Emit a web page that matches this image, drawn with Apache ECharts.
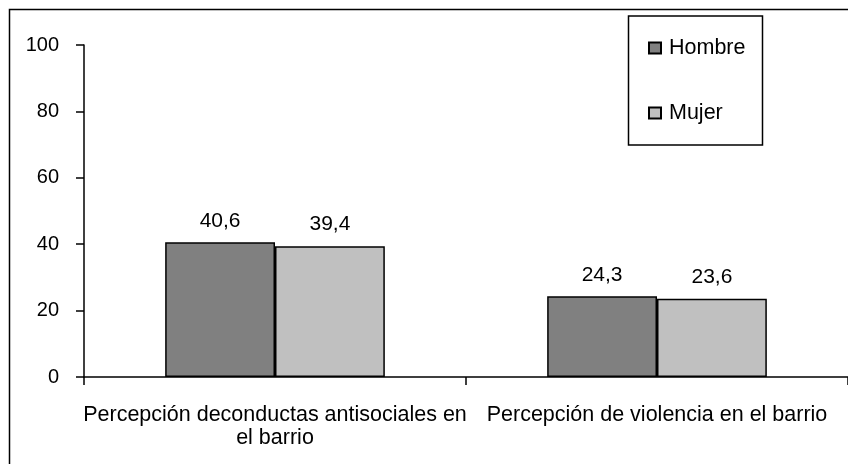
<!DOCTYPE html>
<html>
<head>
<meta charset="utf-8">
<script src="https://cdn.jsdelivr.net/npm/echarts@6/dist/echarts.min.js"></script>
<style>
  html, body { margin: 0; padding: 0; background: #fff; }
  #chart { width: 848px; height: 464px; }
</style>
</head>
<body>
<div id="chart"></div>
<script>
const categories = [
  "Percepción deconductas antisociales en\nel barrio",
  "Percepción de violencia en el barrio"
];
const hombre = [40.6, 24.3];
const mujer = [39.4, 23.6];
const yTicks = [0, 20, 40, 60, 80, 100];

const font = "Liberation Sans, Arial, sans-serif";
const comma = v => String(v).replace(".", ",");

const chart = echarts.init(document.getElementById("chart"));
chart.setOption({
  animation: false,
  textStyle: { fontFamily: font, color: "#000" },
  graphic: [
    {
      type: "rect",
      shape: { x: 9.5, y: 9.5, width: 900, height: 500 },
      style: { fill: "none", stroke: "#000", lineWidth: 1.5 },
      z: 0
    },
    {
      type: "rect",
      shape: { x: 628.5, y: 16, width: 134, height: 129 },
      style: { fill: "#fff", stroke: "#000", lineWidth: 1.5 },
      z: 1
    }
  ],
  legend: {
    orient: "vertical",
    left: 643,
    top: 32,
    itemGap: 43,
    itemWidth: 12,
    itemHeight: 11,
    icon: "rect",
    z: 5,
    textStyle: { fontFamily: font, fontSize: 21.5, color: "#000", padding: [0, 0, 0, 3] },
    data: ["Hombre", "Mujer"]
  },
  grid: { left: 84, top: 45, width: 772, height: 332, containLabel: false },
  xAxis: {
    type: "category",
    data: categories,
    axisLine: { lineStyle: { color: "#000", width: 1.5 } },
    axisTick: { show: true, alignWithLabel: false, length: 8, lineStyle: { color: "#000", width: 1.5 } },
    axisLabel: { fontSize: 21.5, color: "#000", lineHeight: 23, margin: 27, interval: 0 }
  },
  yAxis: {
    type: "value",
    min: yTicks[0],
    max: yTicks[yTicks.length - 1],
    interval: 20,
    splitLine: { show: false },
    axisLine: { show: true, lineStyle: { color: "#000", width: 1.5 } },
    axisTick: { show: true, length: 8, lineStyle: { color: "#000", width: 1.5 } },
    axisLabel: { fontSize: 20, color: "#000", margin: 25 }
  },
  series: [
    {
      name: "Hombre",
      type: "bar",
      data: hombre,
      barGap: "0%",
      barCategoryGap: "42.5%",
      itemStyle: { color: "#808080", borderColor: "#000", borderWidth: 1.5 },
      label: { show: true, position: "top", distance: 11, fontSize: 21, color: "#000", formatter: p => comma(p.value) }
    },
    {
      name: "Mujer",
      type: "bar",
      data: mujer,
      barGap: "0%",
      barCategoryGap: "42.5%",
      itemStyle: { color: "#c0c0c0", borderColor: "#000", borderWidth: 1.5 },
      label: { show: true, position: "top", distance: 11, fontSize: 21, color: "#000", formatter: p => comma(p.value) }
    }
  ]
});
</script>
</body>
</html>
